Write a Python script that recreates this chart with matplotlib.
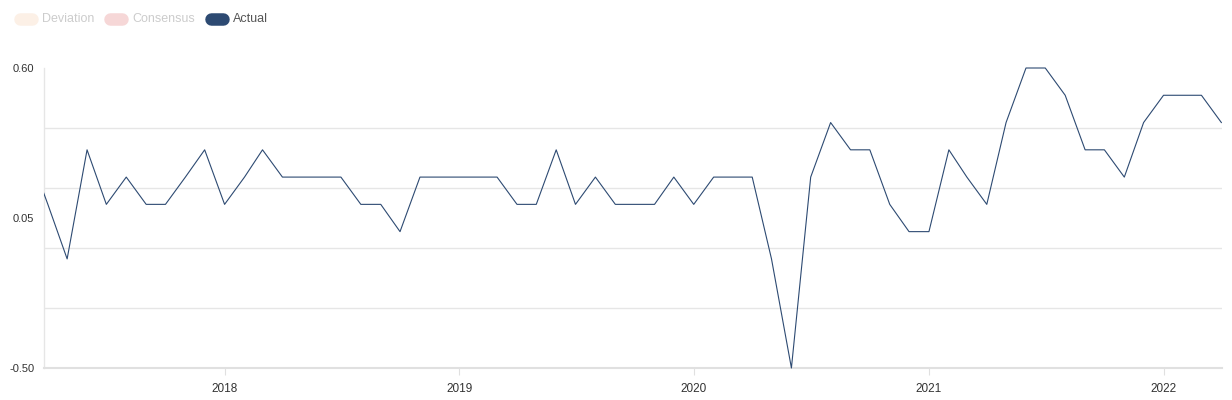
import matplotlib.pyplot as plt
import matplotlib.dates as mdates
from matplotlib.lines import Line2D
from matplotlib.patches import Rectangle
import numpy as np
import pandas as pd

plt.rcParams['font.family'] = ['Liberation Sans', 'DejaVu Sans']

# monthly readings, Mar 2017 .. Apr 2022
start_month = '2017-03-01'
actual = [0.3, 0.1, -0.1, 0.3, 0.1, 0.2, 0.1, 0.1, 0.2, 0.3,
          0.1, 0.2, 0.3, 0.2, 0.2, 0.2, 0.2, 0.1, 0.1, 0.0, 0.2, 0.2,
          0.2, 0.2, 0.2, 0.1, 0.1, 0.3, 0.1, 0.2, 0.1, 0.1, 0.1, 0.2,
          0.1, 0.2, 0.2, 0.2, -0.1, -0.5, 0.2, 0.4, 0.3, 0.3, 0.1, 0.0,
          0.0, 0.3, 0.2, 0.1, 0.4, 0.6, 0.6, 0.5, 0.3, 0.3, 0.2, 0.4,
          0.5, 0.5, 0.5, 0.4]
dates = pd.date_range(start_month, periods=len(actual), freq='MS')

ytick_vals = [0.60, 0.05, -0.50]
ytick_labels = ['0.60', '0.05', '-0.50']
years = [2018, 2019, 2020, 2021, 2022]
legend_names = ['Deviation', 'Consensus', 'Actual']
legend_fill = ['#fcf0e6', '#f6d7d7', '#2d4a72']
legend_text = ['#cccccc', '#cccccc', '#555555']

W, H = 1232, 400
fig = plt.figure(figsize=(W / 100, H / 100), dpi=100)
ax = fig.add_axes([44 / W, 1 - 368 / H, (1222 - 44) / W, 300 / H])

line, = ax.plot(dates, actual, color='#2d4a72', lw=0.8, zorder=3)
# clip at the sides only, so the low point is not cut at the bottom
clip = Rectangle((0, -0.05), 1, 1.1, transform=ax.transAxes, fc='none', ec='none')
ax.add_patch(clip)
line.set_clip_path(clip)

ax.set_xlim(pd.Timestamp('2017-03-26'), pd.Timestamp('2022-04-02'))
ax.set_ylim(-0.5, 0.6)

# y labels only at three values, grid at six lines
ax.set_yticks(ytick_vals)
ax.set_yticklabels(ytick_labels)
ax.set_yticks(np.linspace(-0.5, 0.6, 6), minor=True)
ax.tick_params(axis='y', which='both', length=0, labelsize=8, colors='#333333', pad=7)
ax.grid(which='minor', axis='y', color='#e6e6e6', lw=1)

ax.set_xticks([pd.Timestamp(f'{y}-01-01') for y in years])
ax.xaxis.set_major_formatter(mdates.DateFormatter('%Y'))
ax.tick_params(axis='x', length=5, width=0.8, color='#e0e0e0', labelsize=8.5,
               labelcolor='#333333', pad=6)

for s in ['top', 'right']:
    ax.spines[s].set_visible(False)
ax.spines['left'].set_color('#e6e6e6')
ax.spines['left'].set_linewidth(1)
ax.spines['bottom'].set_color('#e0e0e0')
ax.spines['bottom'].set_linewidth(1.5)

# legend pills at top left
x0 = 14
for name, fc, tc in zip(legend_names, legend_fill, legend_text):
    pill = Line2D([(x0 + 6) / W, (x0 + 18) / W], [1 - 19 / H, 1 - 19 / H],
                  transform=fig.transFigure, color=fc, lw=9,
                  solid_capstyle='round')
    fig.lines.append(pill)
    t = fig.text((x0 + 28) / W, 1 - 19.5 / H, name, color=tc, fontsize=9,
                 va='center', ha='left')
    fig.canvas.draw()
    bb = t.get_window_extent()
    x0 = bb.x1 + 10

fig.savefig('out.png', dpi=100)
